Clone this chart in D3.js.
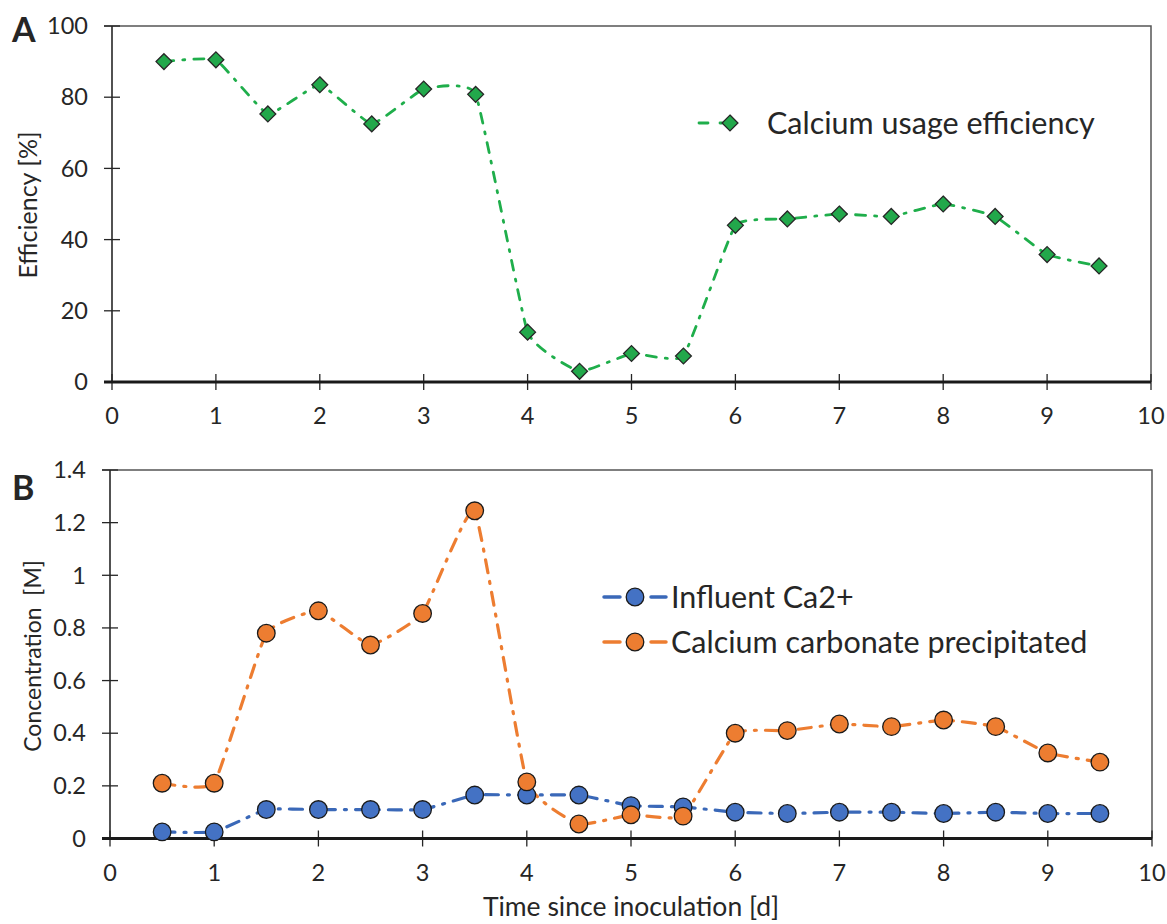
<!DOCTYPE html>
<html>
<head>
<meta charset="utf-8">
<script src="https://cdn.jsdelivr.net/npm/d3@7"></script>
<style>
  body { margin: 0; background: #fff; }
  text { font-family: Lato, "Noto Sans", sans-serif; fill: #262626; }
</style>
</head>
<body>
<div id="chart"></div>
<script>
// time points [d]
var days = [0.5, 1, 1.5, 2, 2.5, 3, 3.5, 4, 4.5, 5, 5.5, 6, 6.5, 7, 7.5, 8, 8.5, 9, 9.5];
// panel A: calcium usage efficiency [%]
var efficiency = [90, 90.5, 75.3, 83.5, 72.5, 82.3, 80.8, 14, 3, 8, 7.3, 44, 45.8, 47.2, 46.5, 50, 46.5, 35.8, 32.6];
// panel B: concentrations [M]
var influent = [0.025, 0.025, 0.11, 0.11, 0.11, 0.11, 0.165, 0.165, 0.165, 0.125, 0.12, 0.10, 0.095, 0.10, 0.10, 0.095, 0.10, 0.095, 0.095];
var precipitated = [0.21, 0.21, 0.78, 0.865, 0.735, 0.855, 1.245, 0.215, 0.055, 0.09, 0.085, 0.40, 0.41, 0.435, 0.425, 0.45, 0.425, 0.325, 0.29];

var xTicks = [0, 1, 2, 3, 4, 5, 6, 7, 8, 9, 10];
var yTicksA = [0, 20, 40, 60, 80, 100];
var yTicksB = [0, 0.2, 0.4, 0.6, 0.8, 1, 1.2, 1.4];

var svg = d3.select("#chart")
    .append("svg")
    .attr("width", 1167)
    .attr("height", 924);

// draws one panel frame: axes, ticks, border
function drawFrame(x, y, yTicks) {
    var g = svg.append("g");
    var x0 = x.range()[0], x1 = x.range()[1];
    var y0 = y.range()[0], y1 = y.range()[1];

    // top + right border
    g.append("path")
        .attr("d", "M" + (x0 - 8) + "," + y1 + "H" + x1 + "V" + y0)
        .attr("fill", "none")
        .attr("stroke", "#555")
        .attr("stroke-width", 1.5);

    // y ticks
    g.selectAll("ytick").data(yTicks).enter()
        .append("line")
        .attr("x1", x0 - 8).attr("x2", function (d) { return d === 0 ? x0 : x0 + 8; })
        .attr("y1", function (d) { return y(d); }).attr("y2", function (d) { return y(d); })
        .attr("stroke", "#262626").attr("stroke-width", 1.3);
    g.selectAll("ylab").data(yTicks).enter()
        .append("text")
        .attr("x", x0 - 24)
        .attr("y", function (d) { return y(d); })
        .attr("dy", "0.35em")
        .attr("text-anchor", "end")
        .attr("font-size", 23.5)
        .text(function (d) { return d; });

    // x ticks
    g.selectAll("xtick").data(xTicks).enter()
        .append("line")
        .attr("x1", function (d) { return x(d); }).attr("x2", function (d) { return x(d); })
        .attr("y1", y0 - 8).attr("y2", y0 + 8)
        .attr("stroke", "#262626").attr("stroke-width", 1.3);
    g.selectAll("xlab").data(xTicks).enter()
        .append("text")
        .attr("x", function (d) { return x(d); })
        .attr("y", y0 + 34)
        .attr("dy", "0.35em")
        .attr("text-anchor", "middle")
        .attr("font-size", 23.5)
        .text(function (d) { return d; });

    // left axis
    g.append("line")
        .attr("x1", x0).attr("x2", x0).attr("y1", y1).attr("y2", y0)
        .attr("stroke", "#262626").attr("stroke-width", 1.6);
    // bottom axis
    g.append("line")
        .attr("x1", x0 - 8).attr("x2", x1).attr("y1", y0).attr("y2", y0)
        .attr("stroke", "#1a1a1a").attr("stroke-width", 2.8);
}

// draws a smoothed dash-dot series
function drawLine(x, y, vals, colour, dash, width) {
    var pts = days.map(function (d, i) { return [d, vals[i]]; });
    var line = d3.line()
        .x(function (d) { return x(d[0]); })
        .y(function (d) { return y(d[1]); })
        .curve(d3.curveCardinal.tension(0.65));
    svg.append("path")
        .attr("d", line(pts))
        .attr("fill", "none")
        .attr("stroke", colour)
        .attr("stroke-width", width)
        .attr("stroke-dasharray", dash)
        .attr("stroke-linecap", "round");
    return pts;
}

var diamond = d3.symbol().type(d3.symbolDiamond2).size(160);

/* ---------- panel A ---------- */
var xA = d3.scaleLinear().domain([0, 10]).range([112, 1151]);
var yA = d3.scaleLinear().domain([0, 100]).range([382, 26]);
drawFrame(xA, yA, yTicksA);

var ptsA = drawLine(xA, yA, efficiency, "#1fae4b", "10,9,2,9", 2.8);
svg.append("g").selectAll("dia").data(ptsA).enter()
    .append("path")
    .attr("d", diamond)
    .attr("transform", function (d) { return "translate(" + xA(d[0]) + "," + yA(d[1]) + ")"; })
    .attr("fill", "#22a84b")
    .attr("stroke", "#262626")
    .attr("stroke-width", 1.3);

// legend A
var legA = svg.append("g").attr("transform", "translate(0,123)");
legA.append("line").attr("x1", 699).attr("x2", 752).attr("y1", 0).attr("y2", 0)
    .attr("stroke", "#1fae4b").attr("stroke-width", 2.8)
    .attr("stroke-dasharray", "9,12,2,40,2,8").attr("stroke-linecap", "round");
legA.append("path").attr("d", diamond).attr("transform", "translate(730,0)")
    .attr("fill", "#22a84b").attr("stroke", "#262626").attr("stroke-width", 1.3);
legA.append("text").attr("x", 767).attr("y", 0).attr("dy", "0.35em")
    .attr("font-size", 30.5).text("Calcium usage efficiency");

svg.append("text")
    .attr("transform", "translate(37,205) rotate(-90)")
    .attr("text-anchor", "middle")
    .attr("font-size", 25)
    .text("Efficiency [%]");

svg.append("text").attr("x", 12).attr("y", 42)
    .attr("font-size", 34).attr("font-weight", "bold").text("A");

/* ---------- panel B ---------- */
var xB = d3.scaleLinear().domain([0, 10]).range([110, 1152]);
var yB = d3.scaleLinear().domain([0, 1.4]).range([838.5, 470]);
drawFrame(xB, yB, yTicksB);

var series = [
    {name: "Influent Ca2+", vals: influent, colour: "#3a68b8", fill: "#4472c4", dash: "13,9,2,9"},
    {name: "Calcium carbonate precipitated", vals: precipitated, colour: "#ed7d31", fill: "#ed7d31", dash: "13,9,2,9"}
];

series.forEach(function (s) {
    s.pts = drawLine(xB, yB, s.vals, s.colour, s.dash, 3.2);
});
series.forEach(function (s) {
    svg.append("g").selectAll("dot").data(s.pts).enter()
        .append("circle")
        .attr("cx", function (d) { return xB(d[0]); })
        .attr("cy", function (d) { return yB(d[1]); })
        .attr("r", 8.8)
        .attr("fill", s.fill)
        .attr("stroke", "#1a1a1a")
        .attr("stroke-width", 1.3);
});

// legend B
var legB = svg.selectAll("legB").data(series).enter()
    .append("g")
    .attr("transform", function (d, i) { return "translate(0," + (597 + i * 45) + ")"; });
legB.append("line").attr("x1", 604).attr("x2", 620).attr("y1", 0).attr("y2", 0)
    .attr("stroke", function (d) { return d.colour; }).attr("stroke-width", 3.5).attr("stroke-linecap", "round");
legB.append("line").attr("x1", 651).attr("x2", 666).attr("y1", 0).attr("y2", 0)
    .attr("stroke", function (d) { return d.colour; }).attr("stroke-width", 3.5).attr("stroke-linecap", "round");
legB.append("circle").attr("cx", 635).attr("cy", 0).attr("r", 8.8)
    .attr("fill", function (d) { return d.fill; }).attr("stroke", "#1a1a1a").attr("stroke-width", 1.3);
legB.append("text").attr("x", 671).attr("y", 0).attr("dy", "0.35em")
    .attr("font-size", 30.5).text(function (d) { return d.name; });

svg.append("text")
    .attr("transform", "translate(41,656) rotate(-90)")
    .attr("text-anchor", "middle")
    .attr("font-size", 23)
    .attr("xml:space", "preserve")
    .text("Concentration  [M]");

svg.append("text").attr("x", 631).attr("y", 916)
    .attr("text-anchor", "middle")
    .attr("font-size", 26.5)
    .text("Time since inoculation [d]");

svg.append("text").attr("x", 12).attr("y", 500)
    .attr("font-size", 34).attr("font-weight", "bold").text("B");
</script>
</body>
</html>
